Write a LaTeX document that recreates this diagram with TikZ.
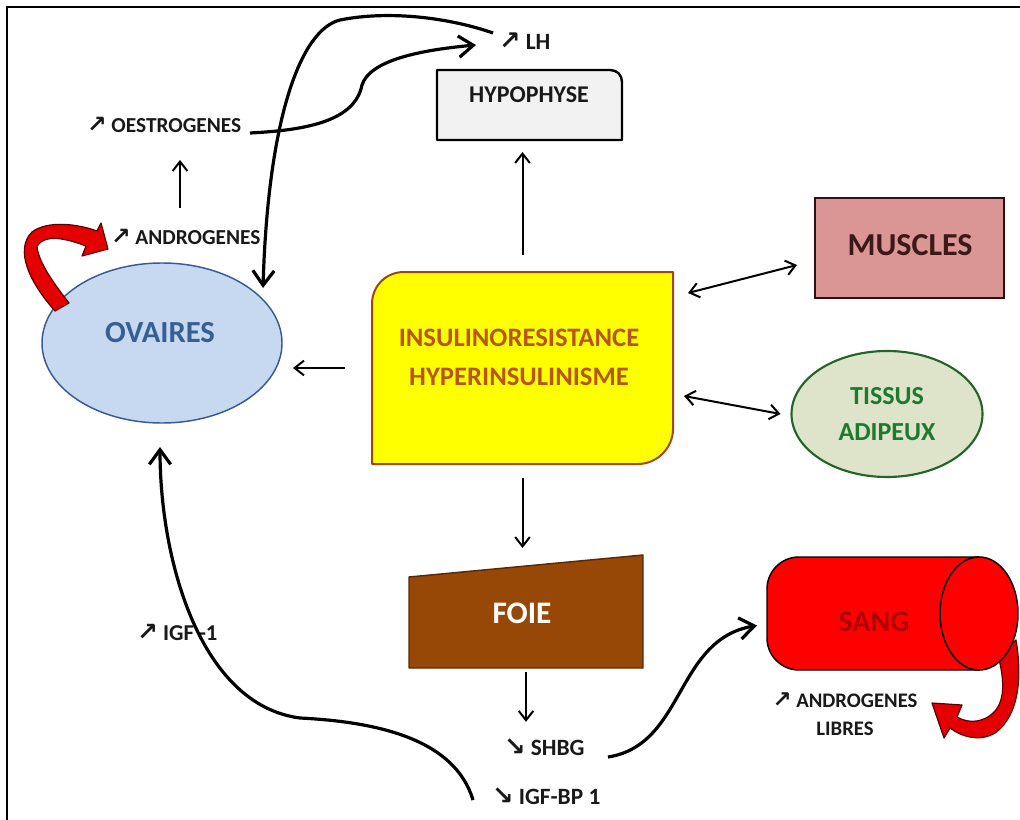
\documentclass[tikz,border=0pt]{standalone}
\usepackage{fontspec}
\setmainfont{Carlito}
\newfontfamily\dvfont{DejaVu Sans}
\usetikzlibrary{arrows.meta,shapes.geometric,calc}
\newcommand{\myup}{{\dvfont\bfseries\scalebox{1.1}{↗}}}
\newcommand{\mydown}{{\dvfont\bfseries\scalebox{1.1}{↘}}}
\definecolor{yelf}{RGB}{255,255,0}
\definecolor{yelb}{RGB}{160,70,20}
\definecolor{yelt}{RGB}{185,85,20}
\definecolor{ovf}{RGB}{198,217,241}
\definecolor{ovb}{RGB}{55,90,150}
\definecolor{ovt}{RGB}{54,96,146}
\definecolor{musf}{RGB}{217,150,148}
\definecolor{musb}{RGB}{50,15,15}
\definecolor{must}{RGB}{60,25,25}
\definecolor{tisf}{RGB}{221,228,202}
\definecolor{tisb}{RGB}{35,100,40}
\definecolor{tist}{RGB}{30,120,45}
\definecolor{foief}{RGB}{152,72,6}
\definecolor{foieb}{RGB}{90,40,5}
\definecolor{sangf}{RGB}{255,0,0}
\definecolor{sangt}{RGB}{175,0,0}
\definecolor{redarr}{RGB}{228,0,0}
\definecolor{redb}{RGB}{90,0,0}
\definecolor{hypf}{RGB}{242,242,242}
\tikzset{
  shapenode/.style={inner sep=0pt, outer sep=0pt},
  lbl/.style={font=\bfseries\fontsize{16}{19}\selectfont, inner sep=0pt, outer sep=0pt, anchor=west, text height=10.3pt, text depth=0pt, text=black!90},
  lblb/.style={lbl, font=\bfseries\fontsize{17.5}{20}\selectfont, text height=11.3pt},
  arr/.style={-{Straight Barb[length=7pt,width=11pt]}, line width=1.5pt},
  darr/.style={{Straight Barb[length=7pt,width=11pt]}-{Straight Barb[length=7pt,width=11pt]}, line width=1.5pt},
  carr/.style={-{Straight Barb[length=11pt,width=16pt]}, line width=2.4pt},
  redshape/.style={fill=redarr, draw=redb, line width=0.9pt, line join=round},
}
\begin{document}
\begin{tikzpicture}[x=0.75pt,y=-0.75pt]
\useasboundingbox (0,0) rectangle (1020,820);
\fill[white] (0,0) rectangle (1020,820);
% frame
\draw[line width=1.1pt] (7,820) -- (7,7) -- (1020,7);

% ---- shapes ----
% ovaires
\node[shapenode, ellipse, draw=ovb, fill=ovf, line width=1.1pt, minimum width=180pt, minimum height=120pt] (ov) at (162,343) {};
\node[font=\bfseries\fontsize{23}{27}\selectfont, text=ovt] (ovtxt) at (160,333) {OVAIRES};

% hypophyse
\node[shapenode, minimum width=138.75pt, minimum height=52.5pt] (hyp) at (529.5,105) {};
\filldraw[fill=hypf, draw=black, line width=1.8pt, line join=round]
  (hyp.south west) -- (hyp.north west) -- ($(hyp.north east)+(-12,0)$)
  .. controls ($(hyp.north east)+(-5,0)$) and ($(hyp.north east)+(0,5)$) .. ($(hyp.north east)+(0,12)$)
  -- (hyp.south east) -- cycle;
\node[font=\bfseries\fontsize{18}{21}\selectfont, text=black!90] (hyptxt) at (529,95) {HYPOPHYSE};

% insulinoresistance
\node[shapenode, minimum width=225.75pt, minimum height=144pt] (ins) at (522.5,368) {};
\filldraw[fill=yelf, draw=yelb, line width=1.5pt, line join=round]
  ($(ins.north west)+(0,32)$) .. controls ($(ins.north west)+(0,14)$) and ($(ins.north west)+(14,0)$) .. ($(ins.north west)+(32,0)$)
  -- (ins.north east) -- ($(ins.south east)+(0,-35)$)
  .. controls ($(ins.south east)+(0,-16)$) and ($(ins.south east)+(-16,0)$) .. ($(ins.south east)+(-35,0)$)
  -- (ins.south west) -- cycle;
\node[font=\bfseries\fontsize{20}{29}\selectfont, text=yelt, align=center] (instxt) at (519,357.5) {INSULINORESISTANCE\\HYPERINSULINISME};

% muscles
\node[shapenode, draw=musb, fill=musf, line width=1.6pt, minimum width=141.75pt, minimum height=75pt] (mus) at (909.5,248) {};
\node[font=\bfseries\fontsize{24}{28}\selectfont, text=must] (mustxt) at (910,245) {MUSCLES};

% tissus adipeux
\node[shapenode, ellipse, draw=tisb, fill=tisf, line width=1.6pt, minimum width=143.25pt, minimum height=94.5pt] (tis) at (887,414) {};
\node[font=\bfseries\fontsize{19.5}{27}\selectfont, text=tist, align=center] (tistxt) at (887,414) {TISSUS\\ADIPEUX};

% foie
\node[shapenode, minimum width=175.5pt, minimum height=84.75pt] (foie) at (526,611.5) {};
\filldraw[fill=foief, draw=foieb, line width=1.1pt, line join=round]
  (foie.south west) -- ($(foie.north west)+(0,22)$) -- (foie.north east) -- (foie.south east) -- cycle;
\node[font=\bfseries\fontsize{23.5}{27}\selectfont, text=white] (foietxt) at (522,613) {FOIE};

% red loop arrow at sang (under the cylinder)
\path[redshape]
  (1016,640) .. controls (1022,675) and (1020,715) .. (995,733)
  .. controls (980,742) and (962,737) .. (950,728)
  -- (944,738) -- (932,703) -- (962,705) -- (957,717)
  .. controls (970,725) and (990,722) .. (999,705)
  .. controls (1005,692) and (1003,675) .. (998,655) -- cycle;

% sang cylinder
\node[shapenode, minimum width=188.25pt, minimum height=84.75pt] (sang) at (892.5,613.5) {};
\filldraw[fill=sangf, draw=black, line width=1.1pt, rounded corners=24pt]
  ($(sang.north east)+(-39,0)$) -- (sang.north west) -- (sang.south west) -- ($(sang.south east)+(-39,0)$);
\filldraw[fill=sangf, draw=black, line width=1.1pt] ($(sang.east)+(-39,0)$) ellipse [x radius=29.25pt, y radius=42.4pt];
\node[font=\bfseries\fontsize{22.5}{26}\selectfont, text=sangt] (sangtxt) at (874,622) {SANG};

% red loop arrow at ovaires
\path[redshape]
  (55,311) .. controls (30,283) and (14,250) .. (32,232)
  .. controls (48,220) and (78,224) .. (97,231)
  -- (101,223) -- (108,249) -- (82,256) -- (86,246)
  .. controls (65,238) and (45,234) .. (37,246)
  .. controls (38,262) and (55,285) .. (69,303) -- cycle;

% ---- labels ----
\node[lblb] (lh) at (499,42) {\myup\ LH};
\node[lbl] (oes) at (87,126) {\myup\ OESTROGENES};
\node[lbl] (and) at (111,238) {\myup\ ANDROGENES};
\node[lbl, font=\bfseries\fontsize{17}{20}\selectfont] (igf) at (137,634) {\myup\ IGF -1};
\node[lblb] (shbg) at (504,748) {\mydown\ SHBG};
\node[lblb] (igfbp) at (492,797) {\mydown\ IGF-BP 1};
\node[font=\bfseries\fontsize{15.5}{21}\selectfont, align=center, text=black!90] (libres) at (845,714) {\myup\ ANDROGENES\\LIBRES};

% ---- connectors ----
\draw[arr, shorten <=12.75pt, shorten >=9pt] (ins.north) -- (ins.north |- hyp.south);
\draw[arr, shorten <=20.25pt, shorten >=8.25pt] (ins.west) -- (ins.west -| ov.east);
\draw[arr, shorten <=10.5pt, shorten >=5.25pt] (ins.south) -- (ins.south |- foie.north);
\draw[arr, shorten <=3pt, shorten >=14pt] (foie.south) -- (foie.south |- shbg.north);
\draw[arr] ($(and.west)+(69,-30)$) -- ($(and.west)+(69,-78)$);
\draw[darr] ($(ins.north east)+(15,21)$) -- ($(mus.west)+(-18,17)$);
\draw[darr] ($(ins.east)+(11,28)$) -- ($(tis.west)+(-11,0)$);

% curved connectors
\draw[carr] ($(oes.west)+(163,7)$) .. controls +(60,-3) and +(-7,35) .. (362,85)
  .. controls +(8,-25) and +(-55,5) .. ($(lh.west)+(-23,3)$);
\draw[carr] ($(lh.west)+(-6,-9)$) .. controls +(-43,-15) and +(50,-10) .. (340,20)
  .. controls +(-40,10) and +(5,-168) .. ($(ov.center)+(101,-55)$);
\draw[carr] ($(igfbp.west)+(-19,3)$) .. controls +(-18,-60) and +(80,4) .. (300,718)
  .. controls +(-100,-13) and +(0,113) .. ($(ov.south)+(-2,24)$);
\draw[carr] ($(shbg.west)+(104,9)$) .. controls +(77,-12) and +(-82,14) .. ($(sang.west)+(-10,12)$);
\end{tikzpicture}
\end{document}
